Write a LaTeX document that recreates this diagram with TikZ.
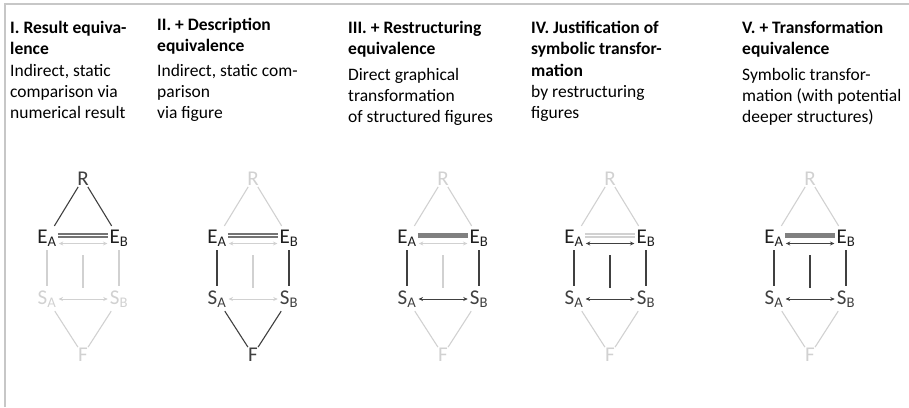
\documentclass[tikz,border=0pt]{standalone}
\usepackage{fontspec}
\setmainfont{Carlito}
\usetikzlibrary{arrows.meta}

\colorlet{dk}{black!75}
\colorlet{lt}{black!18}
\colorlet{framecol}{black!22}

\begin{document}
\begin{tikzpicture}[x=1pt, y=-1pt,
    coltext/.style={anchor=north west, align=left, inner sep=0pt,
        font=\fontsize{17.5}{21.3}\selectfont},
    letter/.style={inner sep=1pt, font=\fontsize{21}{21}\selectfont},
    link/.style={line width=1.1pt},
    eqv/.style={{Stealth[length=4.5pt,width=4pt]}-{Stealth[length=4.5pt,width=4pt]},
        line width=0.9pt, shorten <=1pt, shorten >=1pt},
    dbldark/.style={draw=black!55, double=white, double distance=1.6pt, line width=1.3pt},
    dbllight/.style={draw=lt, double=white, double distance=1.6pt, line width=1.3pt},
    dblbar/.style={draw=black!50, line width=4.5pt},
]
    \useasboundingbox (0,0) rectangle (909,407);
    \draw[framecol, line width=1.2pt] (5,407) -- (5,4) -- (909,4);

    % column texts
    \node[coltext] (txtI) at (10, 21) {\textbf{I. Result equiva-}\\ \textbf{lence}\\
        Indirect, static\\ comparison via\\ numerical result};
    \node[coltext] (txtII) at (157, 18) {\textbf{II. + Description}\\ \textbf{equivalence}\\[3pt]
        Indirect, static com-\\ parison\\ via figure};
    \node[coltext] (txtIII) at (348, 21) {\textbf{III. + Restructuring}\\ \textbf{equivalence}\\[4pt]
        Direct graphical\\ transformation\\ of structured figures};
    \node[coltext] (txtIV) at (531, 21) {\textbf{IV. Justification of}\\ \textbf{symbolic transfor-}\\
        \textbf{mation}\\ by restructuring\\ figures};
    \node[coltext] (txtV) at (742, 21) {\textbf{V. + Transformation}\\ \textbf{equivalence}\\[4pt]
        Symbolic transfor-\\ mation (with potential\\ deeper structures)};

    % the five diagrams
    \foreach \c/\rc/\dbl/\ea/\vc/\mc/\sc/\sa/\fc [count=\n] in {
        83/dk/dbldark/lt/lt/lt/lt/lt/lt,
        253/lt/dbldark/lt/dk/lt/dk/lt/dk,
        443/lt/dblbar/lt/dk/lt/dk/dk/lt,
        610/lt/dbllight/dk/dk/dk/dk/dk/lt,
        810/lt/dblbar/dk/dk/dk/dk/dk/lt} {
        \node[letter, text=\rc] (R\n) at (\c, 179) {R};
        \node[letter, text=black!88] (EA\n) at (\c-36, 238) {E\textsubscript{A}};
        \node[letter, text=black!88] (EB\n) at (\c+36, 238) {E\textsubscript{B}};
        \node[letter, text=\sc] (SA\n) at (\c-36, 299) {S\textsubscript{A}};
        \node[letter, text=\sc] (SB\n) at (\c+36, 299) {S\textsubscript{B}};
        \node[letter, text=\fc] (F\n) at (\c, 355) {F};
        \coordinate (Mt\n) at (\c, 255);
        \coordinate (Mb\n) at (\c, 288);

        \draw[link, draw=\rc, shorten >=3pt] (R\n) -- (EA\n);
        \draw[link, draw=\rc, shorten >=3pt] (R\n) -- (EB\n);
        \draw[\dbl] ([yshift=2.5pt]EA\n.east) -- ([yshift=2.5pt]EB\n.west);
        \draw[eqv, draw=\ea] ([yshift=-5.5pt]EA\n.east) -- ([yshift=-5.5pt]EB\n.west);
        \draw[link, draw=\vc, shorten <=3pt, shorten >=3pt] (EA\n) -- (SA\n);
        \draw[link, draw=\vc, shorten <=3pt, shorten >=3pt] (EB\n) -- (SB\n);
        \draw[link, draw=\mc] (Mt\n) -- (Mb\n);
        \draw[eqv, draw=\sa] (SA\n) -- (SB\n);
        \draw[link, draw=\fc, shorten <=3pt] (SA\n) -- (F\n);
        \draw[link, draw=\fc, shorten <=3pt] (SB\n) -- (F\n);
    }
\end{tikzpicture}
\end{document}
